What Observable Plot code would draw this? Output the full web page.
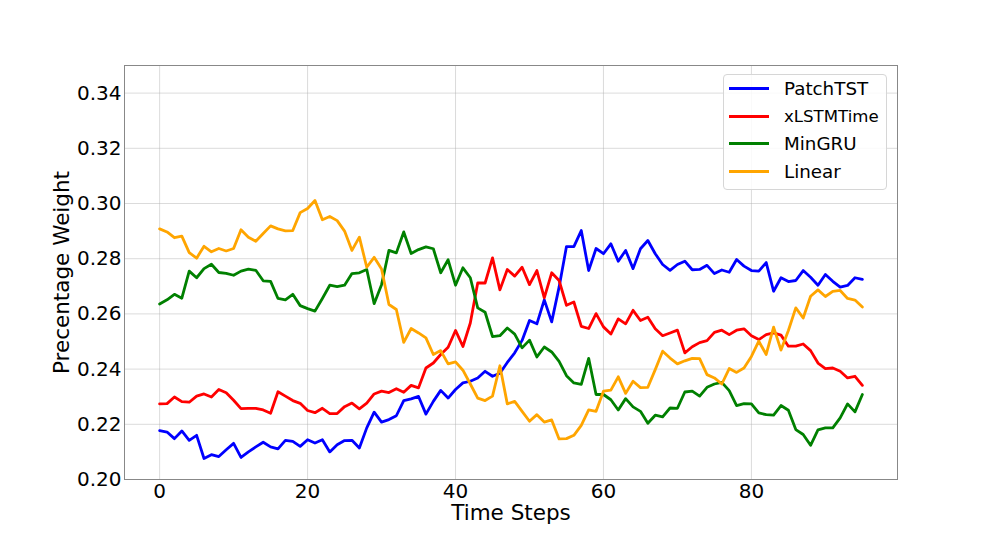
<!DOCTYPE html>
<html><head><meta charset="utf-8">
<script src="https://cdn.jsdelivr.net/npm/d3@7"></script>
<script src="https://cdn.jsdelivr.net/npm/@observablehq/plot@0.6"></script>
<style>
body{margin:0;background:#fff;}
#wrap{position:relative;width:997px;height:538px;font-family:"DejaVu Sans",sans-serif;}
#legend{position:absolute;left:723px;top:74px;width:164px;height:116px;border:1px solid #d6d6d6;border-radius:4px;background:rgba(255,255,255,0.85);box-sizing:border-box;}
.item{position:absolute;left:5px;height:24px;display:flex;align-items:center;transform:translateY(-50%);}
.swatch{width:40px;height:3px;}
.lbl{margin-left:15px;font-size:18.3px;color:#000;white-space:nowrap;}
</style></head><body><div id="wrap"><div id="legend"></div></div>
<script>
const modelNames = ["PatchTST", "xLSTMTime", "MinGRU", "Linear"];
const modelColors = ["#0000ff", "#ff0000", "#008000", "#ffa500"];
const xTicks = [0, 20, 40, 60, 80];
const yTicks = [0.20, 0.22, 0.24, 0.26, 0.28, 0.30, 0.32, 0.34];

const patchTST = [0.2177,0.2172,0.2148,0.2176,0.2142,0.2160,0.2076,0.2090,0.2083,0.2108,
0.2131,0.2080,0.2100,0.2118,0.2135,0.2118,0.2111,0.2142,0.2138,0.2120,
0.2144,0.2132,0.2144,0.2100,0.2126,0.2141,0.2142,0.2114,0.2187,0.2244,
0.2208,0.2217,0.2231,0.2286,0.2292,0.2301,0.2237,0.2283,0.2323,0.2295,
0.2326,0.2350,0.2356,0.2368,0.2392,0.2374,0.2385,0.2424,0.2459,0.2504,
0.2576,0.2564,0.2651,0.2571,0.2697,0.2844,0.2844,0.2902,0.2757,0.2837,
0.2818,0.2854,0.2791,0.2830,0.2764,0.2836,0.2866,0.2818,0.2779,0.2758,
0.2779,0.2791,0.2760,0.2761,0.2776,0.2746,0.2759,0.2751,0.2797,0.2773,
0.2757,0.2755,0.2786,0.2682,0.2731,0.2717,0.2721,0.2757,0.2733,0.2704,
0.2743,0.2718,0.2697,0.2703,0.2731,0.2725];

const xLSTMTime = [0.2274,0.2275,0.2299,0.2282,0.2280,0.2302,0.2310,0.2299,0.2326,0.2314,
0.2287,0.2257,0.2258,0.2258,0.2252,0.2240,0.2318,0.2302,0.2286,0.2276,
0.2250,0.2242,0.2258,0.2239,0.2239,0.2264,0.2277,0.2256,0.2277,0.2310,
0.2320,0.2315,0.2329,0.2316,0.2341,0.2332,0.2404,0.2422,0.2453,0.2479,
0.2540,0.2482,0.2567,0.2712,0.2712,0.2803,0.2687,0.2761,0.2737,0.2769,
0.2706,0.2757,0.2658,0.2749,0.2721,0.2631,0.2643,0.2555,0.2547,0.2601,
0.2553,0.2527,0.2582,0.2564,0.2613,0.2576,0.2588,0.2546,0.2521,0.2531,
0.2541,0.2459,0.2481,0.2496,0.2503,0.2533,0.2541,0.2525,0.2541,0.2546,
0.2521,0.2507,0.2525,0.2531,0.2523,0.2483,0.2483,0.2491,0.2467,0.2422,
0.2402,0.2404,0.2392,0.2368,0.2374,0.2341];

const minGRU = [0.2636,0.2651,0.2671,0.2657,0.2755,0.2731,0.2764,0.2780,0.2750,0.2747,
0.2740,0.2755,0.2762,0.2758,0.2720,0.2718,0.2656,0.2651,0.2671,0.2630,
0.2619,0.2610,0.2656,0.2704,0.2699,0.2704,0.2746,0.2749,0.2761,0.2637,
0.2706,0.2830,0.2821,0.2897,0.2819,0.2833,0.2843,0.2836,0.2749,0.2796,
0.2704,0.2767,0.2731,0.2622,0.2606,0.2518,0.2521,0.2549,0.2527,0.2477,
0.2505,0.2444,0.2480,0.2462,0.2428,0.2376,0.2350,0.2345,0.2439,0.2308,
0.2308,0.2289,0.2252,0.2293,0.2263,0.2247,0.2204,0.2233,0.2227,0.2259,
0.2258,0.2317,0.2320,0.2302,0.2334,0.2346,0.2352,0.2322,0.2268,0.2275,
0.2274,0.2241,0.2235,0.2233,0.2268,0.2251,0.2181,0.2163,0.2124,0.2180,
0.2187,0.2187,0.2223,0.2274,0.2245,0.2308];

const linear = [0.2908,0.2897,0.2876,0.2882,0.2822,0.2802,0.2845,0.2825,0.2837,0.2828,
0.2837,0.2905,0.2878,0.2863,0.2891,0.2919,0.2908,0.2901,0.2902,0.2967,
0.2982,0.3011,0.2941,0.2953,0.2938,0.2900,0.2830,0.2878,0.2769,0.2805,
0.2763,0.2634,0.2616,0.2497,0.2547,0.2531,0.2513,0.2453,0.2467,0.2419,
0.2426,0.2396,0.2346,0.2295,0.2286,0.2302,0.2412,0.2274,0.2283,0.2247,
0.2211,0.2235,0.2208,0.2216,0.2147,0.2148,0.2160,0.2196,0.2252,0.2247,
0.2320,0.2324,0.2372,0.2312,0.2356,0.2333,0.2334,0.2398,0.2465,0.2440,
0.2419,0.2430,0.2439,0.2438,0.2380,0.2368,0.2346,0.2402,0.2388,0.2404,
0.2446,0.2501,0.2453,0.2552,0.2469,0.2540,0.2622,0.2585,0.2664,0.2687,
0.2663,0.2682,0.2685,0.2656,0.2650,0.2625];

const seriesValues = [patchTST, xLSTMTime, minGRU, linear];
const data = seriesValues.flatMap((vals, k) => vals.map((v, i) => ({step: i, value: v, model: modelNames[k]})));

const chart = Plot.plot({
  width: 997, height: 538,
  marginLeft: 124, marginRight: 100, marginTop: 65, marginBottom: 59,
  style: {fontFamily: "DejaVu Sans", fontSize: "20px", color: "#000", background: "transparent", overflow: "visible"},
  x: {domain: [-4.75, 99.75]},
  y: {domain: [0.2, 0.35]},
  color: {domain: modelNames, range: modelColors},
  marks: [
    Plot.gridX(xTicks, {stroke: "#b0b0b0", strokeOpacity: 0.45, strokeWidth: 1}),
    Plot.gridY(yTicks, {stroke: "#b0b0b0", strokeOpacity: 0.45, strokeWidth: 1}),
    Plot.axisX(xTicks, {tickSize: 0, tickPadding: 4, fontSize: 20, label: null}),
    Plot.axisY(yTicks, {tickSize: 0, tickPadding: 3, fontSize: 20, tickFormat: d3.format(".2f"), label: null}),
    Plot.lineY(data, {x: "step", y: "value", stroke: "model", strokeWidth: 2.8, strokeLinejoin: "round"}),
    Plot.frame({stroke: "#888888", strokeWidth: 1}),
    Plot.text(["Time Steps"], {frameAnchor: "bottom", dy: 34, textAnchor: "middle", lineAnchor: "middle", fontSize: 21.5, fill: "#000"}),
    Plot.text(["Precentage Weight"], {frameAnchor: "left", dx: -62.8, rotate: -90, textAnchor: "middle", lineAnchor: "middle", fontSize: 21.5, fill: "#000"})
  ]
});
const wrap = document.getElementById("wrap");
wrap.insertBefore(chart, wrap.firstChild);

const legend = document.getElementById("legend");
const legendY = [88.3, 116, 143.3, 171];
const legendSizes = [18.3, 16.6, 18.3, 18.3];
modelNames.forEach((name, k) => {
  const item = document.createElement("div");
  item.className = "item";
  item.style.top = (legendY[k] - 75) + "px";
  item.innerHTML = `<div class="swatch" style="background:${modelColors[k]}"></div><span class="lbl" style="font-size:${legendSizes[k]}px">${name}</span>`;
  legend.appendChild(item);
});
</script></body></html>
